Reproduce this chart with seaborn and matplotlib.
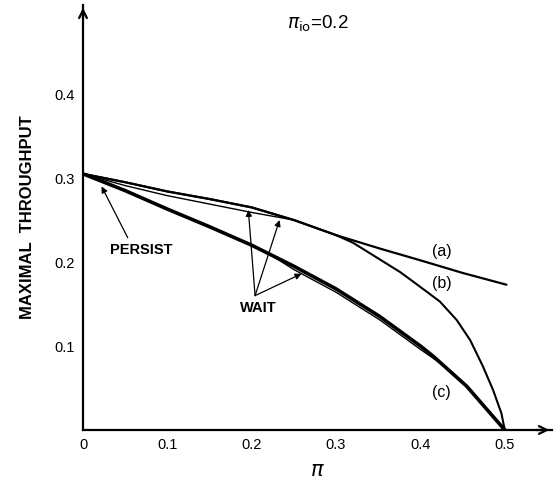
import matplotlib
matplotlib.use("Agg")
import matplotlib.pyplot as plt
import numpy as np
import pandas as pd
import seaborn as sns

# ---- data ----
pi_a = [0.0, 0.05, 0.10, 0.15, 0.20, 0.25, 0.30, 0.352, 0.40, 0.45, 0.502]
thr_a = [0.305, 0.295, 0.284, 0.275, 0.265, 0.250, 0.232, 0.216, 0.202, 0.187, 0.173]

pi_b = [0.0, 0.05, 0.10, 0.15, 0.20, 0.25, 0.30, 0.32, 0.352, 0.376, 0.399,
        0.423, 0.443, 0.459, 0.474, 0.486, 0.496, 0.50]
thr_b = [0.305, 0.295, 0.284, 0.275, 0.265, 0.250, 0.232, 0.223, 0.203, 0.188, 0.171,
         0.153, 0.131, 0.107, 0.076, 0.048, 0.020, 0.0]

pi_b_wait = [0.0, 0.05, 0.10, 0.15, 0.20, 0.25]
thr_b_wait = [0.305, 0.291, 0.279, 0.269, 0.259, 0.250]

pi_c = [0.0, 0.05, 0.10, 0.15, 0.20, 0.25, 0.30, 0.352, 0.40, 0.415, 0.455, 0.50]
thr_c = [0.305, 0.285, 0.263, 0.242, 0.220, 0.195, 0.168, 0.135, 0.100, 0.088, 0.052, 0.0]

pi_c_wait = [0.22, 0.25, 0.30, 0.352, 0.40, 0.43]
thr_c_wait = [0.210, 0.191, 0.164, 0.131, 0.096, 0.075]

x_ticks = [0.0, 0.1, 0.2, 0.3, 0.4, 0.5]
x_tick_labels = ["0", "0.1", "0.2", "0.3", "0.4", "0.5"]
y_ticks = [0.1, 0.2, 0.3, 0.4]
y_tick_labels = ["0.1", "0.2", "0.3", "0.4"]

curve_labels = ["(a)", "(b)", "(c)"]

sns.set_style("white")
plt.rcParams['font.family'] = ['Liberation Sans', 'DejaVu Sans']
plt.rcParams['mathtext.fontset'] = 'dejavusans'
plt.rcParams['text.color'] = 'black'
plt.rcParams['axes.labelcolor'] = 'black'

fig = plt.figure(figsize=(5.56, 4.8), dpi=100)
ax = fig.add_axes([83 / 556, 50 / 480, 469 / 556, 425 / 480])


def draw(x, y, lw):
    df = pd.DataFrame({"pi": x, "thr": y})
    sns.lineplot(data=df, x="pi", y="thr", ax=ax, color="black", lw=lw,
                 sort=False, estimator=None, solid_capstyle="round",
                 solid_joinstyle="round")


draw(pi_b_wait, thr_b_wait, 1.0)
draw(pi_b, thr_b, 1.5)
draw(pi_a, thr_a, 1.6)
draw(pi_c_wait, thr_c_wait, 1.0)
draw(pi_c, thr_c, 2.6)

ax.set_xlim(0, 0.556)
ax.set_ylim(0, 0.506)
ax.set_xticks(x_ticks)
ax.set_xticklabels(x_tick_labels)
ax.set_yticks(y_ticks)
ax.set_yticklabels(y_tick_labels)
ax.tick_params(direction="in", length=7, width=1.2, pad=6, labelsize=10.5,
               color="black", labelcolor="black")

for s in ["top", "right"]:
    ax.spines[s].set_visible(False)
for s in ["left", "bottom"]:
    ax.spines[s].set_color("black")
    ax.spines[s].set_linewidth(1.6)

# axis arrowheads
ax.annotate("", xy=(1.0, 0), xytext=(0.96, 0), xycoords="axes fraction",
            arrowprops=dict(arrowstyle="->", lw=1.6, color="black", mutation_scale=14))
ax.annotate("", xy=(0, 1.0), xytext=(0, 0.96), xycoords="axes fraction",
            arrowprops=dict(arrowstyle="->", lw=1.6, color="black", mutation_scale=14))

ax.set_xlabel(r"$\pi$", fontsize=15, labelpad=6)
ax.set_ylabel("MAXIMAL  THROUGHPUT", fontsize=12, fontweight="bold", labelpad=14)

ax.text(0.5, 0.955, r"$\pi_{\mathrm{io}}$=0.2", transform=ax.transAxes,
        ha="center", va="center", fontsize=13.5)

# curve labels
ax.text(0.425, 0.212, curve_labels[0], ha="center", va="center", fontsize=11.5)
ax.text(0.425, 0.175, curve_labels[1], ha="center", va="center", fontsize=11.5)
ax.text(0.425, 0.045, curve_labels[2], ha="center", va="center", fontsize=11.5)

# annotations
arrow_kw = dict(arrowstyle="-|>", lw=0.9, color="black", mutation_scale=9,
                shrinkA=0, shrinkB=0)
ax.text(0.069, 0.214, "PERSIST", ha="center", va="center", fontsize=10.5, fontweight="bold")
ax.annotate("", xy=(0.022, 0.290), xytext=(0.053, 0.229), arrowprops=arrow_kw)

ax.text(0.208, 0.145, "WAIT", ha="center", va="center", fontsize=10.5, fontweight="bold")
for tx, ty in [(0.196, 0.262), (0.233, 0.250), (0.259, 0.186)]:
    ax.annotate("", xy=(tx, ty), xytext=(0.204, 0.160), arrowprops=arrow_kw)

fig.savefig("out.png", dpi=100, facecolor="white")
